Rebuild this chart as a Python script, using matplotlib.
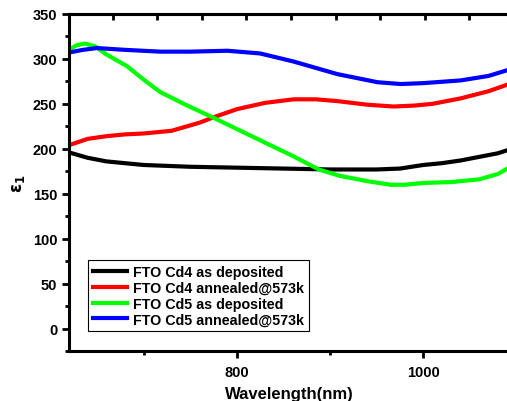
import matplotlib
matplotlib.use("Agg")
import matplotlib.pyplot as plt
from matplotlib.ticker import MultipleLocator, FixedLocator

plt.rcParams['font.family'] = ['Liberation Sans', 'DejaVu Sans']
plt.rcParams['font.weight'] = 'bold'

# data
wl_black = [620, 640, 660, 680, 700, 750, 800, 850, 900, 950, 975, 1000, 1020, 1040, 1060, 1080, 1092]
eps_black = [196, 190, 186, 184, 182, 180, 179, 178, 177, 177, 178, 182, 184, 187, 191, 195, 199]

wl_red = [620, 640, 660, 680, 700, 730, 760, 775, 800, 830, 861, 885, 908, 940, 968, 990, 1010, 1040, 1070, 1092]
eps_red = [204, 211, 214, 216, 217, 220, 229, 235, 244, 251, 255, 255, 253, 249, 247, 248, 250, 256, 264, 272]

wl_green = [620, 628, 637, 648, 660, 682, 700, 718, 747, 774, 800, 830, 860, 888, 910, 940, 965, 980, 1000, 1030, 1060, 1080, 1092]
eps_green = [310, 315, 317, 314, 305, 292, 277, 263, 248, 235, 222, 207, 192, 177, 170, 164, 160, 160, 162, 163, 166, 172, 179]

wl_blue = [620, 635, 650, 680, 718, 750, 790, 825, 861, 908, 951, 976, 1000, 1040, 1070, 1092]
eps_blue = [307, 310, 312, 310, 308, 308, 309, 306, 297, 283, 274, 272, 273, 276, 281, 288]

labels = ['FTO Cd4 as deposited', 'FTO Cd4 annealed@573k',
          'FTO Cd5 as deposited', 'FTO Cd5 annealed@573k']
colors = ['#000000', '#ff0000', '#00ff00', '#0000ff']

fig = plt.figure(figsize=(5.07, 4.02), dpi=100)
ax = fig.add_axes([0.136, 0.124, 0.868, 0.839])

series = [(wl_black, eps_black), (wl_red, eps_red), (wl_green, eps_green), (wl_blue, eps_blue)]
for (x, y), lab, c in zip(series, labels, colors):
    ax.plot(x, y, color=c, lw=3, label=lab)

ax.set_xlim(620, 1092)
ax.set_ylim(-25, 350)
ax.xaxis.set_major_locator(FixedLocator([800, 1000]))
ax.xaxis.set_minor_locator(FixedLocator([700, 900]))
ax.yaxis.set_major_locator(MultipleLocator(50))
ax.yaxis.set_minor_locator(MultipleLocator(25))

for s in ax.spines.values():
    s.set_linewidth(2.2)
ax.tick_params(which='major', direction='out', length=5, width=2, labelsize=10.5)
ax.tick_params(which='minor', direction='out', length=3, width=2)
ax.tick_params(axis='x', pad=5)
for t in ax.get_xticklabels() + ax.get_yticklabels():
    t.set_fontweight('bold')

# top axis ticks pointing inward
top = ax.secondary_xaxis('top')
top.set_xticks([667 + 47.8 * k for k in range(9)])
top.tick_params(direction='in', length=4, width=2, labeltop=False)
top.spines['top'].set_linewidth(2.2)

ax.set_xlabel('Wavelength(nm)', fontsize=12, fontweight='bold', labelpad=5)
ax.set_ylabel(r'$\mathbf{\varepsilon}_{\mathbf{1}}$', fontsize=12, labelpad=4)

leg = ax.legend(loc='lower left', bbox_to_anchor=(0.043, 0.059), fontsize=10.3,
                handlelength=2.4, handletextpad=0.4, labelspacing=0.12,
                borderpad=0.35, borderaxespad=0, fancybox=False, framealpha=1,
                edgecolor='black')
leg.get_frame().set_linewidth(0.8)
for t in leg.get_texts():
    t.set_fontweight('bold')

fig.savefig('out.png', dpi=100)
